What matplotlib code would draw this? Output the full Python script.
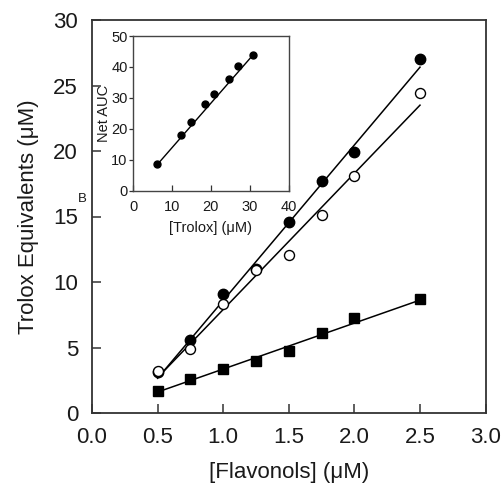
import matplotlib
matplotlib.use("Agg")
import matplotlib.pyplot as plt

plt.rcParams['font.family'] = ['Liberation Sans', 'DejaVu Sans']

# Main panel data
flav_x = [0.5, 0.75, 1.0, 1.25, 1.5, 1.75, 2.0, 2.5]
filled_y = [3.15, 5.57, 9.06, 11.0, 14.6, 17.7, 19.9, 27.05]
open_y = [3.2, 4.92, 8.3, 10.9, 12.06, 15.1, 18.1, 24.45]
square_y = [1.68, 2.62, 3.33, 3.99, 4.73, 6.13, 7.23, 8.70]

fit_x = [0.5, 2.5]
fit_filled = [2.65, 26.4]
fit_open = [2.7, 23.5]
fit_square = [1.6, 8.62]

# Inset data
trolox_x = [6.15, 12.4, 14.8, 18.6, 20.9, 24.6, 27.1, 30.8]
auc_y = [8.6, 18.1, 22.2, 28.1, 31.2, 36.2, 40.2, 43.8]
inset_fit_x = [6.15, 30.8]
inset_fit_y = [8.4, 43.8]

main_xticks = [0.0, 0.5, 1.0, 1.5, 2.0, 2.5, 3.0]
main_xticklabels = ['0.0', '0.5', '1.0', '1.5', '2.0', '2.5', '3.0']
main_yticks = [0, 5, 10, 15, 20, 25, 30]
inset_xticks = [0, 10, 20, 30, 40]
inset_yticks = [0, 10, 20, 30, 40, 50]

W, H = 501, 487
fig = plt.figure(figsize=(W / 100, H / 100), dpi=100)

spine_col = '#333333'
text_col = '#1a1a1a'

ax = fig.add_axes([92 / W, 1 - 413 / H, (485.6 - 92) / W, (413 - 20) / H])
ax.plot(fit_x, fit_filled, color='black', lw=1.1, zorder=2)
ax.plot(fit_x, fit_open, color='black', lw=1.1, zorder=2)
ax.plot(fit_x, fit_square, color='black', lw=1.1, zorder=2)
ax.plot(flav_x, filled_y, 'o', ms=7.5, mfc='black', mec='black', zorder=3)
ax.plot(flav_x, open_y, 'o', ms=7.2, mfc='white', mec='black', mew=1.0, zorder=4)
ax.plot(flav_x, square_y, 's', ms=7.2, mfc='black', mec='black', zorder=3)

ax.set_xlim(0, 3.0)
ax.set_ylim(0, 30)
ax.set_xticks(main_xticks)
ax.set_xticklabels(main_xticklabels)
ax.set_yticks(main_yticks)
ax.tick_params(direction='in', length=6.5, width=1.1, color=spine_col,
               labelsize=16, labelcolor=text_col, pad=10)
ax.tick_params(axis='x', which='both', top=False)
ax.tick_params(axis='y', which='both', right=False)
for s in ax.spines.values():
    s.set_color(spine_col)
    s.set_linewidth(1.3)
ax.set_xlabel('[Flavonols] (μM)', fontsize=16, color=text_col, labelpad=10)
ax.set_ylabel('Trolox Equivalents (μM)', fontsize=16, color=text_col, labelpad=10)

fig.text(82.7 / W, 1 - 199 / H, 'B', fontsize=9.5, color=text_col,
         ha='center', va='center')

# Inset
ai = fig.add_axes([133.3 / W, 1 - 190.7 / H, (288.5 - 133.3) / W, (190.7 - 36) / H])
ai.plot(inset_fit_x, inset_fit_y, color='black', lw=1.0, zorder=2)
ai.plot(trolox_x, auc_y, 'o', ms=5, mfc='black', mec='black', zorder=3)
ai.set_xlim(0, 40)
ai.set_ylim(0, 50)
ai.set_xticks(inset_xticks)
ai.set_yticks(inset_yticks)
ai.tick_params(axis='x', direction='in', length=4, width=0.9, color=spine_col,
               labelsize=10.5, labelcolor=text_col, pad=7)
ai.tick_params(axis='y', direction='out', length=3, width=0.9, color=spine_col,
               labelsize=10.5, labelcolor=text_col, pad=1)
for s in ai.spines.values():
    s.set_color('#444444')
    s.set_linewidth(1.0)
ai.set_xlabel('[Trolox] (μM)', fontsize=10.5, color=text_col, labelpad=5)
ai.set_ylabel('Net AUC', fontsize=10.5, color=text_col, labelpad=0)

fig.savefig('out.png', dpi=100)
